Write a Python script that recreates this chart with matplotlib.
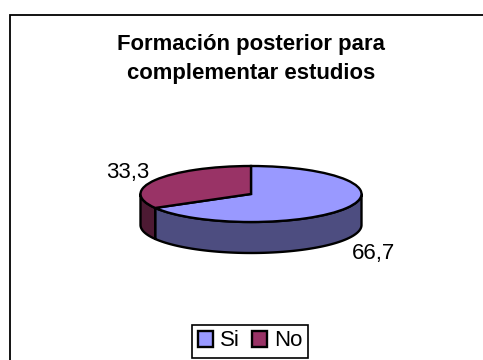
import numpy as np
import matplotlib
matplotlib.use("Agg")
import matplotlib.pyplot as plt
from matplotlib.lines import Line2D
from matplotlib.patches import Polygon

categories = ["Si", "No"]
values = [66.7, 33.3]
top_colors = ["#9999FF", "#993366"]
side_colors = ["#4D4D80", "#4D1A33"]
title = "Formación posterior para\ncomplementar estudios"

W, H = 483, 360
CX, CY, RX, RY, DEPTH = 251, 194, 110.5, 28, 31
plt.rcParams["font.family"] = ["Liberation Sans", "DejaVu Sans"]

fig = plt.figure(figsize=(W / 100, H / 100), dpi=100, facecolor="white")
ax = fig.add_axes([0, 0, 1, 1])


def fx(x):
    return x / W


def fy(y):
    return 1 - y / H


# Frame: only the left and top edges are visible, running off the picture
fig.add_artist(Line2D([fx(9.5), fx(9.5), fx(W)], [fy(H), fy(14.5), fy(14.5)],
                      color="black", lw=1.3, transform=fig.transFigure,
                      solid_joinstyle="miter"))

# Side walls, drawn first, using the same start angle and direction as the pie
depth = DEPTH / RY
start = 90.0
total = sum(values)
for val, col in zip(values, side_colors):
    end = start - 360.0 * val / total
    lo, hi = end, start
    # visible front of the wall: the lower half of the ellipse
    segs = []
    for a, b in [(lo, hi), (lo + 360, hi + 360), (lo - 360, hi - 360)]:
        a2, b2 = max(a, 180), min(b, 360)
        if b2 > a2:
            segs.append((a2, b2))
    for a2, b2 in segs:
        t = np.radians(np.linspace(a2, b2, 120))
        xs = np.cos(t)
        ys = np.sin(t)
        pts = np.r_[np.c_[xs, ys], np.c_[xs[::-1], ys[::-1] - depth]]
        ax.add_patch(Polygon(pts, closed=True, facecolor=col, edgecolor="black",
                             lw=1.7, joinstyle="round", zorder=1))
    start = end

wedges, _ = ax.pie(values, colors=top_colors, startangle=90, counterclock=False,
                   radius=1, center=(0, 0),
                   wedgeprops=dict(edgecolor="black", linewidth=1.7, zorder=2))
ax.set_aspect("auto")
ax.set_xlim((0 - CX) / RX, (W - CX) / RX)
ax.set_ylim((CY - H) / RY, CY / RY)
ax.axis("off")

fig.text(fx(251), fy(59), title, ha="center", va="center", fontsize=15.9,
         fontweight="bold", color="black", linespacing=1.45)

label_pos = [(373.5, 253), (128, 172)]
for val, (px, py) in zip(values, label_pos):
    fig.text(fx(px), fy(py), f"{val:.1f}".replace(".", ","), ha="center",
             va="center", fontsize=16, color="black")

leg = fig.legend(wedges, categories, loc="center", ncol=2,
                 bbox_to_anchor=(fx(250), fy(341)), fontsize=16,
                 frameon=True, fancybox=False, edgecolor="black", framealpha=1,
                 handlelength=0.7, handleheight=0.7, handletextpad=0.3,
                 columnspacing=0.55, borderpad=0.27, borderaxespad=0)
leg.get_frame().set_linewidth(1.2)

fig.savefig("out.png", dpi=100, facecolor="white")
